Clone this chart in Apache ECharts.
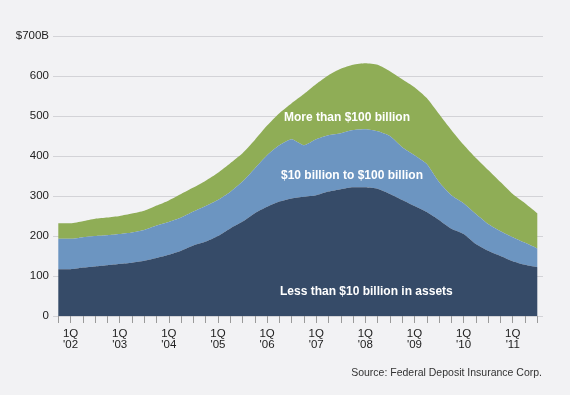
<!DOCTYPE html>
<html><head><meta charset="utf-8">
<script src="https://cdn.jsdelivr.net/npm/echarts@6/dist/echarts.min.js"></script>
<style>html,body{margin:0;padding:0;background:#f2f2f4;}#c{width:570px;height:395px;}</style>
</head><body><div id="c"></div>
<script>
// Quarters 4Q'01 .. 3Q'11
const quarters = [];
(function(){ let q=4, y=1; for(let i=0;i<40;i++){ quarters.push(q+"Q '"+String(y).padStart(2,"0")); q++; if(q>4){q=1;y++;} } })();
const yTicks = [0,100,200,300,400,500,600,700];
const seriesNames = ["Less than $10 billion in assets","$10 billion to $100 billion","More than $100 billion"];
const small = [117,117,121,124,127,130,133,138,145,153,163,176,186,200,219,236,257,273,286,294,298,302,311,317,322,322,318,305,290,275,260,240,218,205,180,163,150,137,128,122];
const mid   = [76,76,76,76,75,75,76,77,81,82,83,85,89,90,91,100,112,129,141,148,129,140,141,140,143,145,144,145,132,127,120,95,84,77,75,67,62,60,55,47];
const large = [39,39,40,43,44,45,47,48,50,54,59,60,63,68,72,71,71,74,80,90,128,138,150,161,163,165,166,162,170,170,165,170,163,146,140,135,123,108,99,88];
const colors = ["#364b68","#6c95c1","#8fad56"];
const FONT = "'Liberation Sans',Arial,sans-serif";

const chart = echarts.init(document.getElementById('c'), null, {renderer:'canvas'});
const vals = [small, mid, large];
chart.setOption({
  backgroundColor: '#f2f2f4',
  animation: false,
  title: { text: 'Source: Federal Deposit Insurance Corp.', right: 23, top: 363,
    textStyle: { fontFamily: FONT, fontSize: 10.5, fontWeight: 'normal', color: '#333' } },
  grid: [
    { left: 53, right: 27, top: 36, bottom: 79 },
    { left: 58.3, right: 32.7, top: 36, bottom: 79 }
  ],
  xAxis: [
    { gridIndex: 0, type: 'value', min: 0, max: 1, show: false },
    { gridIndex: 1, type: 'category', data: quarters, boundaryGap: false,
      axisLine: { show: false },
      axisTick: { show: true, interval: 0, length: 7, lineStyle: { color: '#9a9a9a' } },
      axisLabel: { interval: (i) => i % 4 === 1, margin: 12, color: '#222', fontFamily: FONT, fontSize: 11.5, lineHeight: 11.5,
        formatter: (v) => v.replace(' ', '\n') } }
  ],
  yAxis: [
    { gridIndex: 0, type: 'value', min: 0, max: 700, interval: 100,
      axisLine: { show: false }, axisTick: { show: false },
      splitLine: { lineStyle: { color: '#d3d3d7', width: 1 } },
      axisLabel: { margin: 4, color: '#222', fontFamily: FONT, fontSize: 11.5,
        formatter: (v) => v === 700 ? '$700B' : String(v) } },
    { gridIndex: 1, type: 'value', min: 0, max: 700, interval: 100, show: false, splitLine: { show: false } }
  ],
  series: seriesNames.map((n, k) => ({
    name: n, type: 'line', xAxisIndex: 1, yAxisIndex: 1, stack: 'total', data: vals[k],
    smooth: 0.2, symbol: 'none', lineStyle: { width: 0 },
    areaStyle: { color: colors[k], opacity: 1 }, z: 3 - k
  })),
  graphic: [
    { type: 'text', left: 284, top: 112, z: 100, silent: true,
      style: { text: 'More than $100 billion', fill: '#fff', font: "bold 12px 'Liberation Sans',Arial,sans-serif" } },
    { type: 'text', left: 281, top: 170, z: 100, silent: true,
      style: { text: '$10 billion to $100 billion', fill: '#fff', font: "bold 12px 'Liberation Sans',Arial,sans-serif" } },
    { type: 'text', left: 280, top: 286, z: 100, silent: true,
      style: { text: 'Less than $10 billion in assets', fill: '#fff', font: "bold 12px 'Liberation Sans',Arial,sans-serif" } }
  ]
});
</script></body></html>
